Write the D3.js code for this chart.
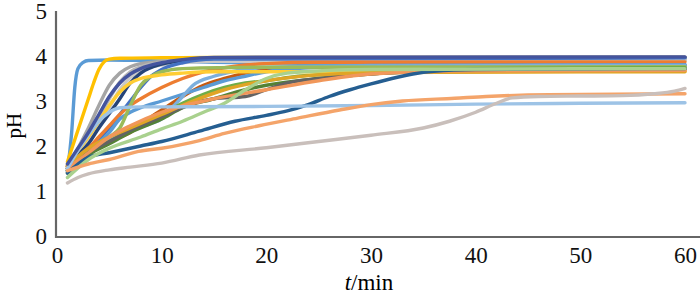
<!DOCTYPE html>
<html>
<head>
<meta charset="utf-8">
<script src="https://cdn.jsdelivr.net/npm/d3@7"></script>
<style>
  body { margin: 0; background: #fff; }
  svg { display: block; }
</style>
</head>
<body>
<svg id="chart" width="700" height="295"></svg>
<script>
// axis ticks
const xTicks = [0, 10, 20, 30, 40, 50, 60];
const yTicks = [0, 1, 2, 3, 4, 5];

// colours of the runs, same order as seriesPoints
const seriesColors = [
  "#5B9BD5", "#FFC000", "#A5A5A5", "#B7B7B7", "#C9C9C9", "#264478",
  "#4472C4", "#ED7D31", "#C55A11", "#5B9BD5", "#7CAFDD", "#9BBB59",
  "#70AD47", "#548235", "#636363", "#FFCD33", "#E0A526", "#F1975A",
  "#255E91", "#A9D18E", "#9DC3E6", "#F4A46A", "#C9BFBB", "#44549E"
];

// pH readings, [t (min), pH]
const seriesPoints = [
  [[1,1.45],[1.4,2.3],[1.7,3.3],[2,3.72],[2.5,3.86],[3,3.9],[5,3.91],[8,3.9],[15,3.86],[30,3.82],[60,3.81]],
  [[1,1.65],[2,2.35],[3,3.05],[3.5,3.4],[4,3.7],[4.5,3.87],[5,3.93],[6,3.95],[10,3.96],[15,3.97],[60,3.97]],
  [[1,1.55],[2,1.95],[3,2.4],[4,2.9],[5,3.35],[6,3.62],[7,3.76],[8,3.83],[10,3.88],[15,3.92],[60,3.93]],
  [[1,1.5],[2,1.85],[3,2.2],[4,2.6],[5,3.05],[6,3.42],[7,3.65],[8,3.76],[10,3.85],[15,3.9],[60,3.91]],
  [[1,1.5],[2,1.8],[3,2.1],[4,2.45],[5,2.85],[6,3.25],[7,3.52],[8,3.68],[10,3.8],[15,3.88],[60,3.9]],
  [[1,1.55],[2,1.8],[3,2.05],[4,2.4],[5,2.72],[6,3.05],[7,3.4],[8,3.62],[10,3.82],[12,3.9],[15,3.95],[60,3.97]],
  [[1,1.5],[2,1.75],[3,1.95],[4,2.15],[5,2.4],[6,2.7],[7,3.0],[8,3.3],[9,3.55],[10,3.7],[12,3.85],[15,3.93],[60,3.96]],
  [[1,1.55],[2,1.75],[3,1.95],[4,2.2],[5,2.45],[6,2.7],[7,2.9],[8,3.05],[10,3.3],[12,3.5],[14,3.65],[16,3.74],[18,3.8],[20,3.83],[25,3.86],[60,3.87]],
  [[1,1.5],[3,1.85],[5,2.1],[7,2.3],[8,2.45],[9,2.65],[10,2.8],[12,3.1],[14,3.35],[16,3.5],[18,3.62],[20,3.7],[25,3.76],[60,3.78]],
  [[1,1.5],[3,1.9],[5,2.3],[6,2.6],[7,2.75],[8,2.85],[10,3.0],[12,3.15],[14,3.3],[16,3.45],[18,3.55],[20,3.65],[25,3.75],[30,3.79],[60,3.8]],
  [[1,1.45],[3,1.85],[5,2.15],[7,2.35],[9,2.5],[10,2.6],[11,2.85],[12,3.1],[13,3.35],[15,3.55],[18,3.7],[20,3.75],[30,3.78],[60,3.79]],
  [[1,1.5],[3,1.9],[5,2.2],[6,2.4],[7,2.9],[8,3.35],[9,3.55],[10,3.65],[12,3.72],[20,3.75],[60,3.76]],
  [[1,1.45],[3,1.85],[5,2.1],[7,2.35],[8,2.45],[10,2.7],[12,2.95],[14,3.15],[16,3.3],[18,3.4],[20,3.45],[23,3.55],[26,3.6],[30,3.66],[40,3.72],[60,3.74]],
  [[1,1.4],[3,1.8],[5,2.05],[7,2.3],[10,2.6],[12,2.85],[15,3.05],[18,3.25],[20,3.35],[25,3.5],[30,3.6],[40,3.68],[60,3.72]],
  [[1,1.45],[3,1.85],[5,2.1],[7,2.35],[10,2.65],[13,2.95],[15,3.05],[18,3.1],[20,3.25],[22,3.4],[25,3.5],[30,3.6],[40,3.68],[60,3.7]],
  [[1,1.6],[2,1.9],[3,2.2],[4,2.55],[5,2.9],[6,3.2],[7,3.4],[8,3.5],[10,3.58],[12,3.62],[15,3.65],[60,3.66]],
  [[1,1.55],[3,1.95],[5,2.2],[7,2.4],[10,2.7],[13,3.0],[16,3.25],[20,3.45],[25,3.58],[30,3.63],[60,3.65]],
  [[1,1.5],[3,1.85],[5,2.2],[7,2.45],[10,2.75],[15,3.05],[20,3.25],[25,3.45],[30,3.6],[40,3.67],[60,3.68]],
  [[1,1.4],[3,1.75],[5,1.85],[8,2.0],[10,2.1],[13.6,2.33],[17,2.55],[20,2.68],[22,2.78],[24,2.92],[26,3.1],[28,3.25],[30,3.38],[32,3.5],[34,3.6],[36,3.66],[40,3.7],[60,3.72]],
  [[1,1.3],[3,1.7],[5,1.95],[8,2.2],[10,2.38],[12,2.55],[14,2.75],[16,2.95],[18,3.25],[20,3.5],[22,3.62],[26,3.68],[30,3.7],[60,3.72]],
  [[1,1.5],[2,1.9],[3,2.25],[4,2.55],[5,2.75],[6,2.85],[8,2.87],[10,2.87],[20,2.88],[30,2.9],[40,2.93],[50,2.95],[60,2.96]],
  [[1,1.45],[3,1.6],[5,1.7],[7.8,1.88],[10,1.95],[13.6,2.12],[16,2.28],[19.3,2.45],[23,2.62],[27,2.8],[30,2.92],[33,3.0],[38,3.06],[41,3.1],[47,3.14],[60,3.16]],
  [[1,1.18],[2,1.3],[3,1.38],[5,1.47],[7,1.53],[10,1.62],[13.6,1.8],[20,1.96],[25,2.1],[30,2.24],[35,2.4],[37.5,2.55],[40,2.75],[42,2.95],[43.5,3.07],[46,3.1],[50,3.11],[54,3.12],[57,3.16],[59,3.22],[60,3.28]],
  [[1,1.6],[2,1.95],[3,2.3],[4,2.7],[5,3.1],[6,3.4],[7,3.6],[8,3.72],[10,3.85],[12,3.92],[15,3.97],[60,3.98]]
];

const svg = d3.select("#chart");
const width = 700, height = 295;
const serif = '"Liberation Serif", "DejaVu Serif", serif';

const x = d3.scaleLinear().domain([0, 60]).range([57, 685]);
const y = d3.scaleLinear().domain([0, 5]).range([236, 11]);

const line = d3.line()
  .x(d => x(d[0]))
  .y(d => y(d[1]))
  .curve(d3.curveMonotoneX);

// runs
svg.append("g")
  .selectAll("path")
  .data(seriesPoints)
  .enter()
  .append("path")
  .attr("d", d => line(d))
  .attr("fill", "none")
  .attr("stroke", (d, i) => seriesColors[i])
  .attr("stroke-width", 3.4)
  .attr("stroke-linejoin", "round")
  .attr("stroke-linecap", "round");

// axes
const xAxis = svg.append("g")
  .attr("transform", "translate(0," + (y(0) + 1) + ")")
  .call(d3.axisBottom(x).tickValues(xTicks).tickFormat(d3.format("d")).tickSize(0).tickPadding(10));
xAxis.select(".domain").remove();

const yAxis = svg.append("g")
  .attr("transform", "translate(" + (x(0) - 1) + ",0)")
  .call(d3.axisLeft(y).tickValues(yTicks).tickFormat(d3.format("d")).tickSize(0).tickPadding(9));
yAxis.select(".domain").remove();

svg.selectAll(".tick text")
  .style("font-family", serif)
  .style("font-size", "23px")
  .style("fill", "#111");

svg.append("line")
  .attr("x1", x(0) - 1).attr("x2", width)
  .attr("y1", y(0) + 1).attr("y2", y(0) + 1)
  .style("stroke", "#666").style("stroke-width", 2.2);

svg.append("line")
  .attr("x1", x(0) - 1).attr("x2", x(0) - 1)
  .attr("y1", y(5)).attr("y2", y(0) + 2)
  .style("stroke", "#666").style("stroke-width", 2.2);

// axis titles
svg.append("text")
  .attr("transform", "translate(21," + y(2.45) + ") rotate(-90)")
  .attr("text-anchor", "middle")
  .style("font-family", serif)
  .style("font-size", "21px")
  .text("pH");

const xTitle = svg.append("text")
  .attr("x", x(29.8))
  .attr("y", 290)
  .attr("text-anchor", "middle")
  .style("font-family", serif)
  .style("font-size", "23px");
xTitle.append("tspan").style("font-style", "italic").text("t");
xTitle.append("tspan").text("/min");
</script>
</body>
</html>
